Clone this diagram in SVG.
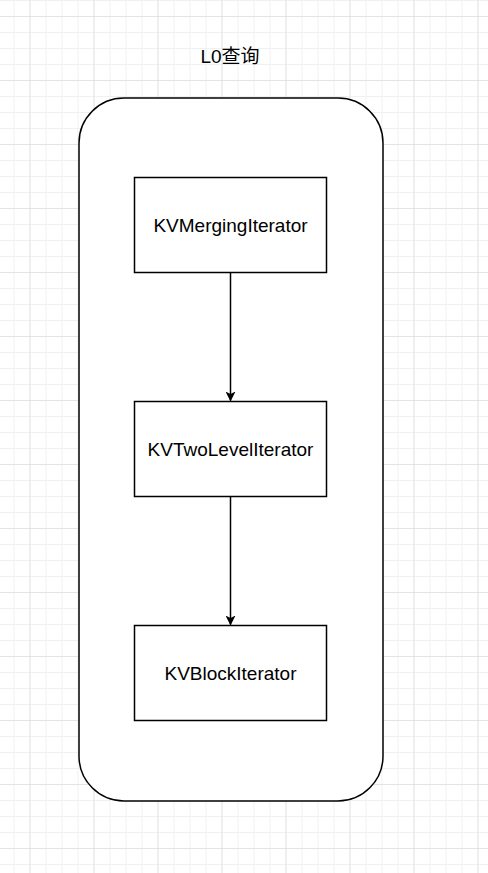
<svg xmlns="http://www.w3.org/2000/svg" width="488" height="873" viewBox="0 0 488 873">
  <defs>
    <pattern id="minor" x="13.5" y="0" width="16" height="16" patternUnits="userSpaceOnUse">
      <path d="M0 0.5H16M0.5 0V16" fill="none" stroke="#f0f0f0" stroke-width="1"/>
    </pattern>
    <pattern id="major" x="29.5" y="16" width="64" height="64" patternUnits="userSpaceOnUse">
      <path d="M0 0H64M0 0V64" fill="none" stroke="#d8d8d8" stroke-width="1.2"/>
    </pattern>
    <marker id="arrow" viewBox="0 0 10 10" refX="9" refY="5" markerWidth="10" markerHeight="10" markerUnits="userSpaceOnUse" orient="auto">
      <path d="M0 0L10 5L0 10L2.5 5Z" fill="#000"/>
    </marker>
    <style>
      .box { fill: #fff; stroke: #000; stroke-width: 1.5; }
      .label { font-family: "Liberation Sans", Arial, sans-serif; font-size: 19px; fill: #000; text-anchor: middle; dominant-baseline: central; }
      .edge { fill: none; stroke: #000; stroke-width: 1.5; }
    </style>
  </defs>

  <!-- background grid -->
  <rect width="488" height="873" fill="#fff"/>
  <rect width="488" height="873" fill="url(#minor)"/>
  <rect width="488" height="873" fill="url(#major)"/>

  <!-- title -->
  <text class="label" x="230" y="56" style="font-family:'Liberation Sans','Noto Sans CJK SC',sans-serif">L0查询</text>

  <!-- container -->
  <g id="container">
    <rect class="box" x="79" y="98" width="304" height="703" rx="45" ry="45"/>
  </g>

  <g id="kvmerging">
    <rect class="box" x="134.5" y="177.5" width="192" height="95"/>
    <text class="label" x="230.5" y="225">KVMergingIterator</text>
  </g>

  <g id="kvtwolevel">
    <rect class="box" x="134.5" y="401.5" width="192" height="95"/>
    <text class="label" x="230.5" y="449">KVTwoLevelIterator</text>
  </g>

  <g id="kvblock">
    <rect class="box" x="134.5" y="625.5" width="192" height="95"/>
    <text class="label" x="230.5" y="673">KVBlockIterator</text>
  </g>

  <g id="connectors">
    <path class="edge" d="M230.5 272.5V400.5" marker-end="url(#arrow)"/>
    <path class="edge" d="M230.5 496.5V624.5" marker-end="url(#arrow)"/>
  </g>
</svg>
